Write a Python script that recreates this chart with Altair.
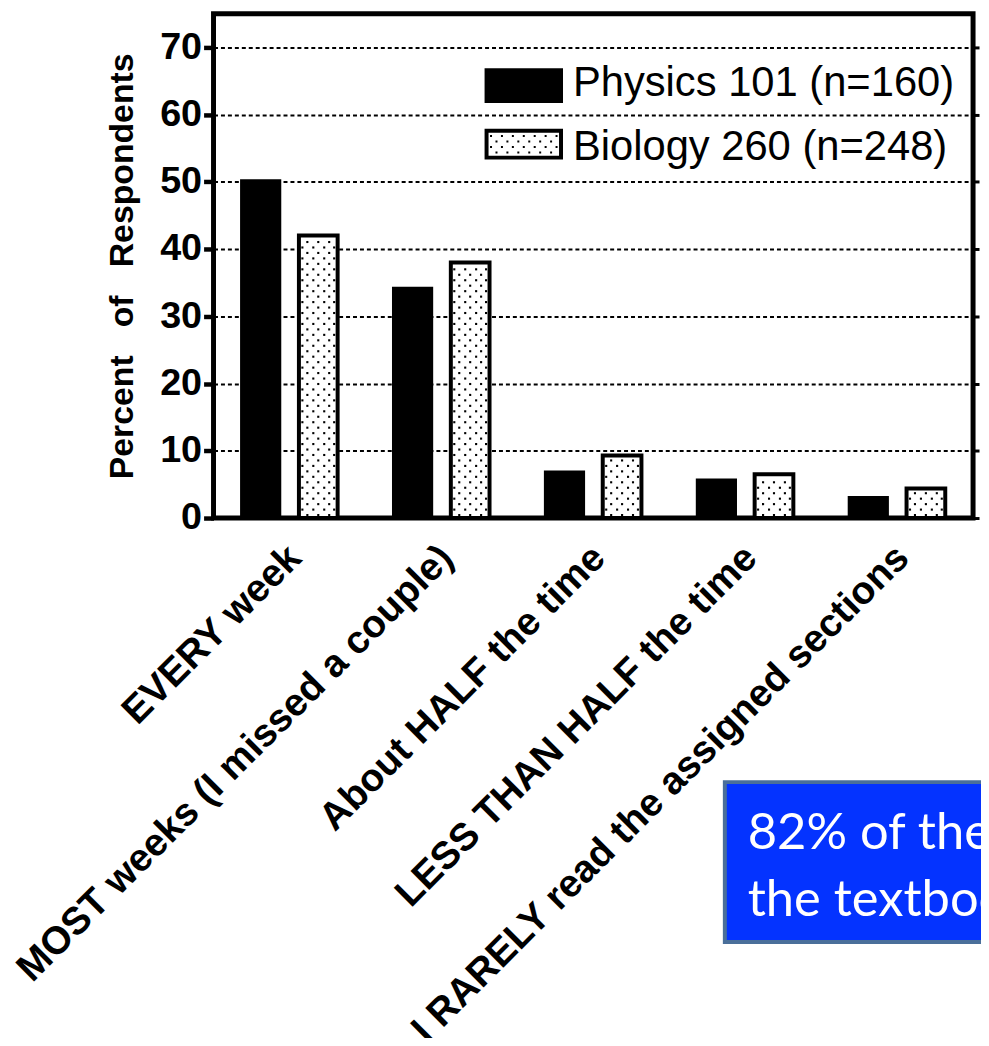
import altair as alt
import pandas as pd

# ---------------- data ----------------
categories = [
    "EVERY week",
    "MOST weeks (I missed a couple)",
    "About HALF the time",
    "LESS THAN HALF the time",
    "I RARELY read the assigned sections",
]
courses = ["Physics 101 (n=160)", "Biology 260 (n=248)"]
physics_pct = [50.2, 34.2, 6.9, 5.7, 3.1]
biology_pct = [42.0, 38.0, 9.3, 6.5, 4.4]
y_ticks = [0, 10, 20, 30, 40, 50, 60, 70]
y_title = "Percent\u00a0\u00a0 of\u00a0\u00a0 Respondents"
note_lines = ["82% of the students read", "the textbook most weeks"]

# ---------------- layout constants ----------------
W, H = 765, 508
Y_MAX = 75
PX = H / Y_MAX
GROUP_BW = 97.0  # group bandwidth in px (x band scale)
FONT = "Liberation Sans, Arial, Helvetica, sans-serif"

bars_df = pd.DataFrame(
    [{"cat": c, "course": courses[0], "value": v} for c, v in zip(categories, physics_pct)]
    + [{"cat": c, "course": courses[1], "value": v} for c, v in zip(categories, biology_pct)]
)

# dotted texture inside the Biology bars (positions derived from the values)
dot_rows = []
for c, v in zip(categories, biology_pct):
    top_px = v * PX - 4
    k = 0
    while True:
        ypx = 3 + 5.5 * k
        if ypx > top_px:
            break
        cols = [66.5, 77.5, 88.5] if k % 2 == 0 else [61.5, 72.5, 83.5, 93.5]
        for cx in cols:
            dot_rows.append({"cat": c, "dx": cx / GROUP_BW, "dy": ypx / PX})
        k += 1
dots_df = pd.DataFrame(dot_rows)

# dot texture path for the legend swatch (1 unit = 1 px at size 4)
parts = []
for r, dy in enumerate([-8.25, -2.75, 2.75, 8.25]):
    xs = [-33 + 11 * k for k in range(7)] if r % 2 == 0 else [-27.5 + 11 * k for k in range(6)]
    for dx in xs:
        parts.append(f"M{dx-1},{dy-1}h2v2h-2z")
swatch_path = "".join(parts)

# ---------------- encodings ----------------
x_axis = alt.Axis(
    labelAngle=-45,
    labelAlign="right",
    labelBaseline="top",
    labelFont=FONT,
    labelFontSize=39,
    labelFontWeight="bold",
    labelColor="black",
    labelPadding=20,
    labelOffset=-8,
    labelLimit=2000,
    labelOverlap=False,
    ticks=False,
    tickSize=0,
    domain=False,
    grid=False,
)
x_scale = alt.Scale(paddingInner=0.366, paddingOuter=0.183)


def x_enc():
    return alt.X("cat:N", sort=categories, title=None, scale=x_scale, axis=x_axis)


y_axis = alt.Axis(
    values=y_ticks,
    title=y_title,
    titleFont=FONT,
    titleFontSize=34,
    titleFontWeight="bold",
    titleColor="black",
    titlePadding=20,
    labelFont=FONT,
    labelFontSize=38,
    labelFontWeight="bold",
    labelColor="black",
    labelPadding=2,
    tickSize=10,
    tickWidth=4.5,
    tickColor="black",
    domain=False,
    grid=True,
    gridColor="black",
    gridDash=[4, 3],
    gridWidth=2,
    gridOpacity=1,
)

bars = alt.Chart(bars_df).mark_bar(stroke="black").encode(
    x=x_enc(),
    xOffset=alt.XOffset(
        "course:N",
        sort=courses,
        scale=alt.Scale(domain=courses, paddingInner=0.328, paddingOuter=0),
    ),
    y=alt.Y("value:Q", scale=alt.Scale(domain=[0, Y_MAX], nice=False, zero=True), axis=y_axis),
    fill=alt.Fill("course:N", scale=alt.Scale(domain=courses, range=["black", "white"]), legend=None),
    strokeWidth=alt.condition(alt.datum.course == courses[1], alt.value(4), alt.value(2.5)),
)

dots = alt.Chart(dots_df).mark_square(size=4.5, color="black", opacity=1).encode(
    x=x_enc(),
    xOffset=alt.XOffset("dx:Q", scale=alt.Scale(domain=[0, 1], nice=False, zero=False)),
    y=alt.Y(
        "dy:Q",
        axis=alt.Axis(
            orient="right",
            values=y_ticks,
            labels=False,
            title=None,
            ticks=True,
            tickSize=6,
            tickWidth=3,
            tickColor="black",
            domain=False,
            grid=False,
        ),
    ),
)

one = pd.DataFrame({"k": [0]})

leg_phys = alt.Chart(one).mark_rect(color="black").encode(
    x=alt.value(273), x2=alt.value(352), y=alt.value(55), y2=alt.value(90)
)
leg_bio = alt.Chart(one).mark_rect(fill="white", stroke="black", strokeWidth=4).encode(
    x=alt.value(275), x2=alt.value(350), y=alt.value(118), y2=alt.value(145)
)
leg_bio_dots = alt.Chart(one).mark_point(
    shape=swatch_path, size=4, filled=True, color="black", opacity=1
).encode(x=alt.value(312.5), y=alt.value(131.5))

leg_text1 = alt.Chart(pd.DataFrame({"label": [courses[0]]})).mark_text(
    align="left", baseline="alphabetic", font=FONT, fontSize=42, color="black"
).encode(x=alt.value(362), y=alt.value(83), text="label:N")
leg_text2 = alt.Chart(pd.DataFrame({"label": [courses[1]]})).mark_text(
    align="left", baseline="alphabetic", font=FONT, fontSize=42, color="black"
).encode(x=alt.value(362), y=alt.value(147), text="label:N")

note_box = alt.Chart(one).mark_rect(fill="#0433FF", stroke="#4A6F9A", strokeWidth=4).encode(
    x=alt.value(515), x2=alt.value(1100), y=alt.value(774), y2=alt.value(935)
)
note_text = alt.Chart(pd.DataFrame({"note": ["\n".join(note_lines)]})).mark_text(
    align="left", baseline="alphabetic", font="Lato, Open Sans, sans-serif", fontSize=51,
    color="white", lineBreak="\n", lineHeight=68
).encode(x=alt.value(538), y=alt.value(841), text="note:N")

chart = (
    alt.layer(bars, dots, leg_phys, leg_bio, leg_bio_dots, leg_text1, leg_text2, note_box, note_text)
    .resolve_scale(xOffset="independent")
    .resolve_axis(y="independent")
    .properties(
        width=W,
        height=H,
        autosize=alt.AutoSizeParams(type="none"),
        padding={"left": 207, "top": 2, "right": 8, "bottom": 520},
        background="white",
    )
    .configure_view(stroke="black", strokeWidth=5)
)

chart.save("out.html", embed_options={"renderer": "svg", "actions": False})
